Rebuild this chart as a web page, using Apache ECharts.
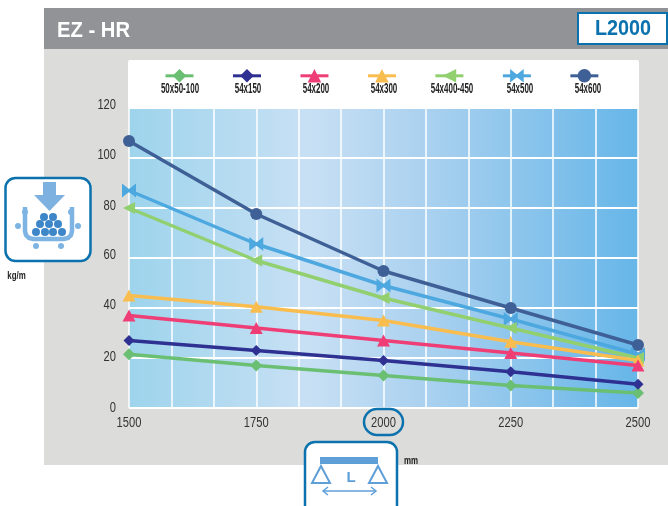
<!DOCTYPE html>
<html><head><meta charset="utf-8">
<script src="https://cdn.jsdelivr.net/npm/echarts@6/dist/echarts.min.js"></script>
<style>html,body{margin:0;padding:0;background:#fff}#c{width:668px;height:506px}</style></head>
<body><div id="c"></div>
<script>
const spans = [1500, 1750, 2000, 2250, 2500];
const names = ['50x50-100','54x150','54x200','54x300','54x400-450','54x500','54x600'];
const s50x50 = [21.5, 17, 13, 9, 6];
const s54x150 = [27, 23, 19, 14.5, 9.5];
const s54x200 = [37, 32, 27, 22, 17];
const s54x300 = [45, 40.5, 35, 26.5, 19];
const s54x400 = [80, 59, 44, 32, 20];
const s54x500 = [87, 65.6, 49, 35.6, 21.5];
const s54x600 = [106.8, 77.6, 54.8, 40, 25.2];
const values = [s50x50, s54x150, s54x200, s54x300, s54x400, s54x500, s54x600];
const colors = ['#6abf72','#2e3192','#ef3e75','#f9bd4f','#92cf6f','#4ea8e0','#3f6096'];
const bow = 'path://M0,0L10,8L20,0L20,20L10,12L0,20Z';
const symbols = ['diamond','diamond','triangle','triangle','triangle',bow,'circle'];
const sizes = [12,11,[13,12],[13,12],12,14,12];
const rotates = [0,0,0,0,90,0,0];
const zs = [8,9,7,6,5,3,4];
const font = '"Liberation Sans",sans-serif';
const blue = '#0b72ae', pale = '#5f9fd8', ball = '#3d87c9', dot = '#7db4e3';

const series = names.map((n,i)=>({
  name:n,type:'line',symbol:symbols[i],symbolSize:sizes[i],symbolRotate:rotates[i],
  z:zs[i],clip:false,
  lineStyle:{color:colors[i],width:3.5},itemStyle:{color:colors[i]},
  data:spans.map((x,j)=>[x,values[i][j]])
}));

const st = (text,x,y,f,fill,sx,align)=>({type:'text',z:20,x,y,scaleX:sx||1,style:{text,x:0,y:0,font:f,fill,textAlign:align||'center',textVerticalAlign:'middle'}});
const circ = (cx,cy,r,fill)=>({type:'circle',z:21,shape:{cx,cy,r},style:{fill}});
const g = [
  {type:'rect',z:-10,shape:{x:44,y:49,width:624,height:416},style:{fill:'#dcdcdb'}},
  {type:'rect',z:-9,shape:{x:44,y:8,width:624,height:41},style:{fill:'#929396'}},
  {type:'rect',z:-8,shape:{x:128,y:60,width:511,height:50,r:2},style:{fill:'#fff'}},
  st('EZ - HR',57,31,'bold 22px '+font,'#fff',0.92,'left'),
  {type:'rect',z:10,shape:{x:578,y:13,width:89,height:31},style:{fill:'#fff',stroke:blue,lineWidth:2}},
  st('L2000',623,29,'bold 22px '+font,blue,0.9),
  st('kg/m',16.5,276,'bold 11px '+font,'#222',0.72),
  st('mm',411,461,'bold 11px '+font,'#222',0.72),
  {type:'rect',z:10,shape:{x:364,y:409,width:39,height:26,r:13},style:{fill:'none',stroke:blue,lineWidth:2.5}},
  // load icon
  {type:'rect',z:10,shape:{x:5.5,y:178,width:85,height:83,r:10},style:{fill:'#fff',stroke:blue,lineWidth:2.5}},
  {type:'polygon',z:21,shape:{points:[[43,182],[56,182],[56,195],[65,195],[49.5,211],[34,195],[43,195]]},style:{fill:'#7db1e0'}},
  {type:'polyline',z:20,shape:{points:[[25,207],[25,231],[26,235],[29,238],[33,239],[64,239],[68,238],[71,235],[72,231],[72,207]]},style:{fill:'none',stroke:'#7db4e3',lineWidth:4.5}},
  ...[[44,217],[53,217],[40,224],[49,224],[58,224],[36,232],[45,232],[53,232],[62,232]].map(p=>circ(p[0],p[1],4,ball)),
  ...[[25,212],[71,212],[18,226],[78,226],[36,246],[61,246]].map(p=>circ(p[0],p[1],3,dot)),
  // span icon
  {type:'rect',z:10,shape:{x:305,y:442,width:92,height:80,r:10},style:{fill:'#fff',stroke:blue,lineWidth:2.5}},
  {type:'rect',z:21,shape:{x:320,y:457,width:58,height:7},style:{fill:pale}},
  {type:'polygon',z:21,shape:{points:[[321,466],[330,483],[312,483]]},style:{fill:'none',stroke:pale,lineWidth:2}},
  {type:'polygon',z:21,shape:{points:[[378,466],[387,483],[369,483]]},style:{fill:'none',stroke:pale,lineWidth:2}},
  st('L',351,478,'bold 15px '+font,pale),
  {type:'line',z:21,shape:{x1:323,y1:491,x2:376,y2:491},style:{stroke:pale,lineWidth:1.5}},
  {type:'polyline',z:21,shape:{points:[[328,487],[323,491],[328,495]]},style:{fill:'none',stroke:pale,lineWidth:1.5}},
  {type:'polyline',z:21,shape:{points:[[371,487],[376,491],[371,495]]},style:{fill:'none',stroke:pale,lineWidth:1.5}},
  // legend captions
  ...names.map((n,i)=>st(n,180+68*i,89,'bold 14.5px '+font,'#222',0.55))
];

const chart = echarts.init(document.getElementById('c'),null,{renderer:'canvas'});
chart.setOption({
  animation:false,
  backgroundColor:'#fff',
  grid:{left:129,right:30,top:108,bottom:98,show:true,borderWidth:0,
    backgroundColor:new echarts.graphic.LinearGradient(0,0,1,0,[
      {offset:0,color:'#9dd4ec'},{offset:0.35,color:'#c8e0f4'},{offset:0.6,color:'#a8d0ef'},{offset:1,color:'#66b6e8'}])},
  legend:{data:names,left:159,top:64,itemWidth:28,itemHeight:17,itemGap:32.7,formatter:()=>' ',selectedMode:false,
    textStyle:{fontSize:1},lineStyle:{width:3}},
  xAxis:{type:'value',min:1500,max:2500,interval:250,
    axisLine:{show:false},axisTick:{show:false},
    axisLabel:{color:'#333',fontFamily:font,fontSize:15.5,margin:7,formatter:v=>String(v),showMaxLabel:true,showMinLabel:true},
    splitLine:{show:true,lineStyle:{color:'#fff',width:1.5}},
    minorTick:{show:false,splitNumber:3},
    minorSplitLine:{show:true,lineStyle:{color:'#fff',width:1.5}}},
  yAxis:{type:'value',min:0,max:120,interval:20,
    axisLine:{show:false},axisTick:{show:false},
    axisLabel:{color:'#333',fontFamily:font,fontSize:15.5,margin:13},
    splitLine:{show:true,lineStyle:{color:'#fff',width:2}}},
  series,
  graphic:{elements:g}
});
// The installed fonts have no condensed cut, so squeeze the axis tick labels horizontally,
// and nudge the y labels up from their gridlines as in the reference.
const xTicks = new Set(['1500','1750','2000','2250','2500']);
const yNudge = {'120':3,'100':3,'80':2,'60':3,'40':3,'20':1,'0':0};
const zr = chart.getZr();
function walk(el){
  if(el.isGroup){el.eachChild(walk);return;}
  if(el.type!=='text' || !el.style) return;
  const t = String(el.style.text);
  if(xTicks.has(t)){el.scaleX=0.72; el.markRedraw();}
  else if(t in yNudge){el.scaleX=0.72; el.y-=yNudge[t]; el.markRedraw();}
}
zr.storage.getRoots().forEach(walk);
zr.refreshImmediately();
</script></body></html>
